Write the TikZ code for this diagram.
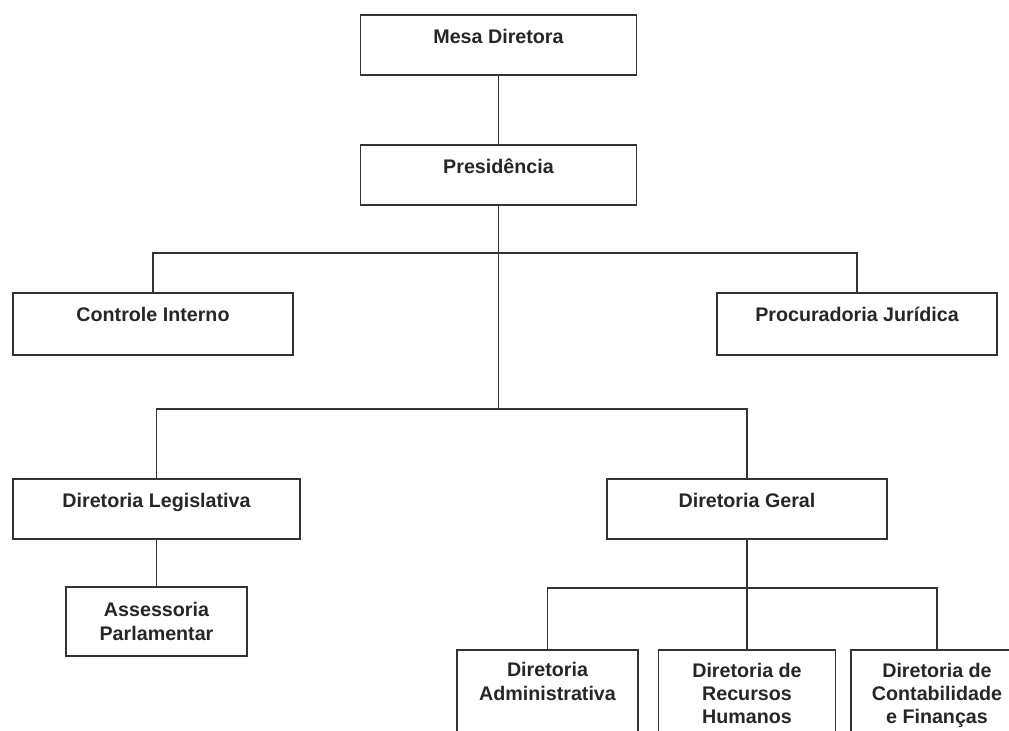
\documentclass[tikz,border=0pt]{standalone}
\usepackage{fontspec}
\setmainfont{Liberation Sans}

\tikzset{
    caixa/.style={rectangle, draw=black!80, line width=1.2pt, inner sep=0pt, align=center, text=black!85, text height=0.72cm, font=\bfseries\fontsize{14pt}{16.5pt}\selectfont},
    ligacao/.style={draw=black!80, line width=1.2pt}
}

\begin{document}
\begin{tikzpicture}[x=0.025cm, y=-0.025cm]
    \path[use as bounding box] (0,0) rectangle (1009,731);
    \clip (0,0) rectangle (1009,731);

    \node[caixa, minimum width=6.9cm, text depth=0.78cm] (mesa) at (498.5,45) {Mesa Diretora};
    \node[caixa, minimum width=6.9cm, text depth=0.78cm] (pres) at (498.5,175) {Presidência};
    \node[caixa, minimum width=7cm, text depth=0.83cm] (controle) at (153,324) {Controle Interno};
    \node[caixa, minimum width=7cm, text depth=0.83cm] (procur) at (857,324) {Procuradoria Jurídica};
    \node[caixa, minimum width=7.175cm, text depth=0.78cm] (dirleg) at (156.5,509) {Diretoria Legislativa};
    \node[caixa, minimum width=7cm, text depth=0.78cm] (dirger) at (747,509) {Diretoria Geral};
    \node[caixa, minimum width=4.525cm, text height=1.325cm, text depth=0.4cm] (assess) at (156.5,621.5) {Assessoria\\Parlamentar};
    \node[caixa, minimum width=4.525cm, text height=1.25cm, text depth=1.25cm] (adm) at (547.5,700) {Diretoria\\Administrativa};
    \node[caixa, minimum width=4.425cm, text height=1.835cm, text depth=0.665cm] (rh) at (747,700) {Diretoria de\\Recursos\\Humanos};
    \node[caixa, minimum width=4.3cm, text height=1.835cm, text depth=0.665cm] (cont) at (937,700) {Diretoria de\\Contabilidade\\e Finanças};

    \coordinate (ramo1) at (498.5,253);
    \coordinate (ramo2) at (498.5,409);
    \coordinate (ramo3) at (747,588);

    \draw[ligacao] (mesa) -- (pres);
    \draw[ligacao] (pres.south) -- (ramo2);
    \draw[ligacao] (controle.north) |- (ramo1) -| (procur.north);
    \draw[ligacao] (dirleg.north) |- (ramo2) -| (dirger.north);
    \draw[ligacao] (dirleg) -- (assess);
    \draw[ligacao] (dirger.south) -- (rh.north);
    \draw[ligacao] (adm.north) |- (ramo3) -| (cont.north);
\end{tikzpicture}
\end{document}
